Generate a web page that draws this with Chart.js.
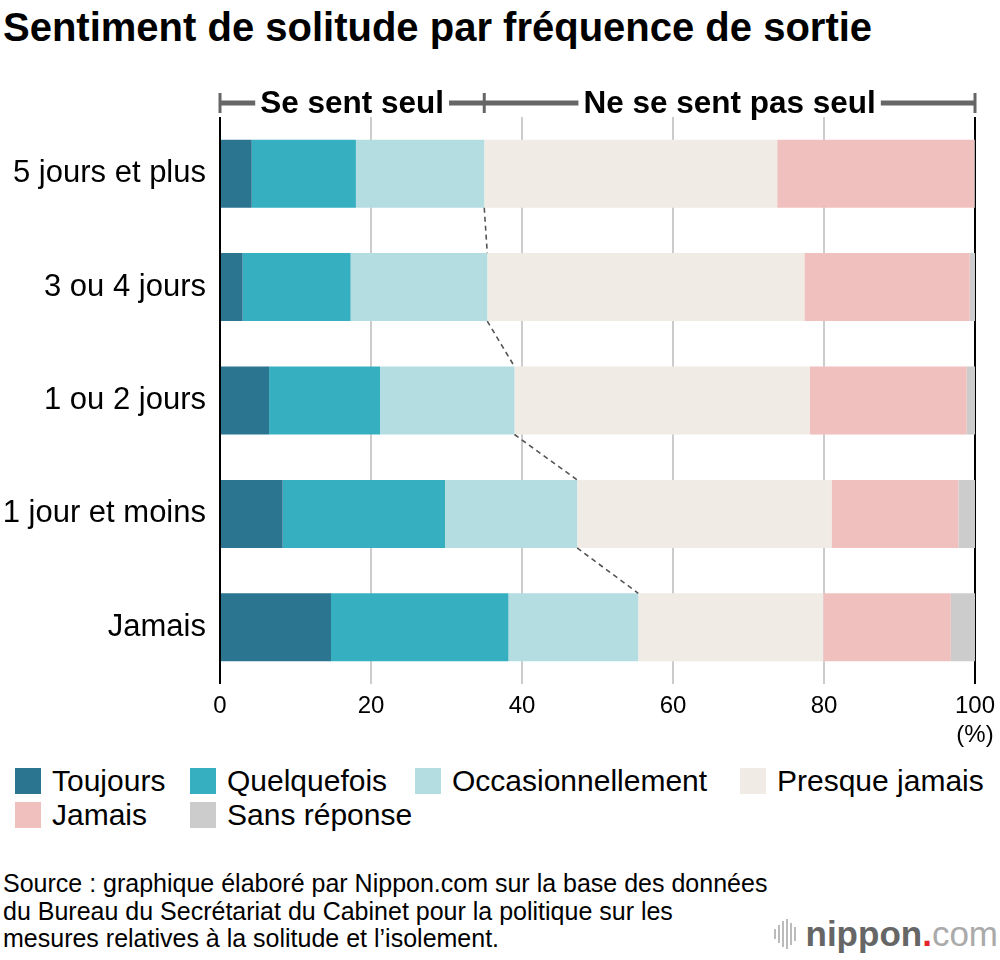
<!DOCTYPE html>
<html lang="fr">
<head>
<meta charset="utf-8">
<script src="https://cdn.jsdelivr.net/npm/chart.js@4.4.1/dist/chart.umd.min.js"></script>
<style>
  html, body { margin: 0; padding: 0; background: #fff; }
  body { width: 1000px; height: 960px; position: relative; overflow: hidden;
         font-family: "Liberation Sans", Arial, sans-serif; color: #000; }
  #title { position: absolute; left: 3px; top: 7px; font-size: 40px; line-height: 40px;
           font-weight: bold; white-space: nowrap; }
  #wrap { position: absolute; left: 0; top: 0; width: 1000px; height: 750px; }
  #legend { position: absolute; left: 15px; top: 766px; display: grid;
            grid-template-columns: 175px 225px 325px auto; row-gap: 4px; }
  .item { display: flex; align-items: center; font-size: 30px; line-height: 30px; white-space: nowrap; }
  .sw { width: 26px; height: 26px; margin-right: 11px; flex: none; }
  #source { position: absolute; left: 3px; top: 870px; font-size: 25px; line-height: 27.5px; }
  #logo { position: absolute; right: 2px; top: 914px; display: flex; align-items: center;
          font-size: 35px; line-height: 40px; }
  #logo .bars { display: flex; align-items: center; margin-right: 8px; height: 30px; }
  #logo .bars span { display: block; width: 2px; background: #bbb; margin-right: 2px; }
  #logo .n { font-weight: bold; color: #666; }
  #logo .d { color: #e5242b; font-weight: bold; }
  #logo .c { color: #aaa; }
</style>
</head>
<body>
<div id="title">Sentiment de solitude par fréquence de sortie</div>
<div id="wrap"><canvas id="chart"></canvas></div>
<div id="legend"></div>
<div id="source">Source : graphique élaboré par Nippon.com sur la base des données<br>du Bureau du Secrétariat du Cabinet pour la politique sur les<br>mesures relatives à la solitude et l’isolement.</div>
<div id="logo"><div class="bars"><span style="height:10px"></span><span style="height:18px"></span><span style="height:26px"></span><span style="height:30px"></span><span style="height:22px"></span><span style="height:14px"></span></div><span class="n">nippon</span><span class="d">.</span><span class="c">com</span></div>

<script>
const categories = ["5 jours et plus", "3 ou 4 jours", "1 ou 2 jours", "1 jour et moins", "Jamais"];
const seriesNames = ["Toujours", "Quelquefois", "Occasionnellement", "Presque jamais", "Jamais", "Sans réponse"];
const seriesColors = ["#2b7590", "#36b0c0", "#b4dde1", "#f0ece5", "#f0c0bf", "#cccccc"];

const toujours = [4.2, 3.0, 6.5, 8.3, 14.7];
const quelquefois = [13.8, 14.3, 14.7, 21.5, 23.5];
const occasionnellement = [17.0, 18.1, 17.8, 17.5, 17.2];
const presqueJamais = [38.8, 42.0, 39.1, 33.7, 24.5];
const jamais = [26.1, 21.9, 20.8, 16.8, 16.9];
const sansReponse = [0.1, 0.7, 1.1, 2.2, 3.2];

const xTicks = [0, 20, 40, 60, 80, 100];
const bracketLabels = ["Se sent seul", "Ne se sent pas seul"];
const bracketEdges = [0, 35, 100];

const seriesValues = [toujours, quelquefois, occasionnellement, presqueJamais, jamais, sansReponse];

// légende HTML
const legend = document.getElementById("legend");
seriesNames.forEach((name, i) => {
  const el = document.createElement("div");
  el.className = "item";
  el.innerHTML = `<span class="sw" style="background:${seriesColors[i]}"></span>${name}`;
  legend.appendChild(el);
});

const FONT = "'Liberation Sans', Arial, sans-serif";
Chart.defaults.font.family = FONT;
Chart.defaults.color = "#000";

// accolade du haut + pointillés entre les barres
const annotations = {
  id: "annotations",
  afterDatasetsDraw(chart) {
    const { ctx, chartArea, scales } = chart;
    const x = scales.x;

    // pointillés : fin de "Occasionnellement" d'une barre à l'autre
    const meta = chart.getDatasetMeta(2);
    ctx.save();
    ctx.strokeStyle = "#555";
    ctx.lineWidth = 1.6;
    ctx.setLineDash([5, 4]);
    for (let i = 0; i < meta.data.length - 1; i++) {
      const a = meta.data[i], b = meta.data[i + 1];
      ctx.beginPath();
      ctx.moveTo(a.x, a.y + a.height / 2);
      ctx.lineTo(b.x, b.y - b.height / 2);
      ctx.stroke();
    }
    ctx.restore();

    // accolades
    const y = chartArea.top - 14;
    ctx.save();
    ctx.strokeStyle = "#666";
    ctx.lineWidth = 5;
    ctx.beginPath();
    ctx.moveTo(x.getPixelForValue(bracketEdges[0]), y);
    ctx.lineTo(x.getPixelForValue(bracketEdges[bracketEdges.length - 1]), y);
    ctx.stroke();
    ctx.lineWidth = 3;
    bracketEdges.forEach(v => {
      const px = x.getPixelForValue(v);
      ctx.beginPath();
      ctx.moveTo(px, y - 10);
      ctx.lineTo(px, y + 10);
      ctx.stroke();
    });
    ctx.font = `bold 31.5px ${FONT}`;
    ctx.textAlign = "center";
    ctx.textBaseline = "middle";
    bracketLabels.forEach((label, i) => {
      const cx = (x.getPixelForValue(bracketEdges[i]) + x.getPixelForValue(bracketEdges[i + 1])) / 2;
      const w = ctx.measureText(label).width;
      ctx.fillStyle = "#fff";
      ctx.fillRect(cx - w / 2 - 5, y - 6, w + 10, 12);
      ctx.fillStyle = "#000";
      ctx.fillText(label, cx, y + 1);
    });
    ctx.restore();
  }
};

new Chart(document.getElementById("chart"), {
  type: "bar",
  data: {
    labels: categories,
    datasets: seriesNames.map((name, i) => ({
      label: name,
      data: seriesValues[i],
      backgroundColor: seriesColors[i],
      borderWidth: 0,
      barPercentage: 0.6,
      categoryPercentage: 1.0
    }))
  },
  options: {
    indexAxis: "y",
    responsive: true,
    maintainAspectRatio: false,
    animation: false,
    layout: { padding: { top: 117, right: 25, left: 0, bottom: 0 } },
    plugins: { legend: { display: false }, tooltip: { enabled: false } },
    scales: {
      x: {
        stacked: true,
        min: 0,
        max: 100,
        afterBuildTicks: scale => { scale.ticks = xTicks.map(v => ({ value: v })); },
        afterFit: scale => { scale.height = 66; scale.paddingLeft = 0; scale.paddingRight = 0; },
        border: { display: false },
        grid: {
          drawTicks: false,
          lineWidth: 2,
          color: c => (c.tick && (c.tick.value === 0 || c.tick.value === 100)) ? "#000" : "#cccccc"
        },
        ticks: {
          padding: 8,
          font: { size: 24 },
          maxRotation: 0,
          callback: v => v === 100 ? ["100", "(%)"] : String(v)
        }
      },
      y: {
        stacked: true,
        afterFit: scale => { scale.width = 220; },
        border: { display: false },
        grid: { display: false },
        ticks: { padding: 6, font: { size: 31 } }
      }
    }
  },
  plugins: [annotations]
});
</script>
</body>
</html>
